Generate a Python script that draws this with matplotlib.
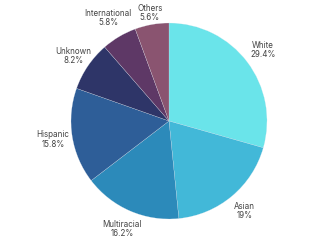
import matplotlib
matplotlib.use('Agg')
import matplotlib.pyplot as plt
import numpy as np

labels = ['White', 'Asian', 'Multiracial', 'Hispanic', 'Unknown', 'International', 'Others']
values = [29.4, 19, 16.2, 15.8, 8.2, 5.8, 5.6]
pct_text = ['29.4%', '19%', '16.2%', '15.8%', '8.2%', '5.8%', '5.6%']
colors = ['#6ae4ea', '#42b8d8', '#2c8aba', '#2e5e98', '#2e3568', '#5e3866', '#8a5470']
label_dist = [1.2, 1.2, 1.2, 1.2, 1.18, 1.22, 1.12]

fig = plt.figure(figsize=(3.2, 2.4), dpi=100)
r = 98
cx, cy = 169, 121
ax = fig.add_axes([(cx - r) / 320, (240 - cy - r) / 240, 2 * r / 320, 2 * r / 240])

wedges, _ = ax.pie(values, colors=colors, startangle=90, counterclock=False,
                   wedgeprops={'edgecolor': '#dfe8f0', 'linewidth': 0.15})
for w, l, p, d in zip(wedges, labels, pct_text, label_dist):
    ang = np.deg2rad((w.theta1 + w.theta2) / 2)
    ax.text(d * np.cos(ang), d * np.sin(ang), '{}\n{}'.format(l, p),
            ha='center', va='center', fontsize=5.8, color='#444444',
            family=['Inter', 'DejaVu Sans'], linespacing=1.1)
ax.set_xlim(-1, 1)
ax.set_ylim(-1, 1)
ax.set_aspect('equal')

fig.savefig('out.png', dpi=100)
